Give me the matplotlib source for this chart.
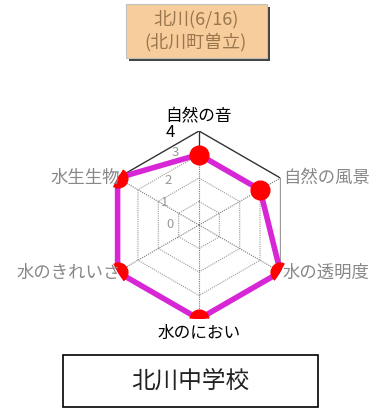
import numpy as np
import matplotlib.pyplot as plt
from matplotlib.patches import Rectangle

plt.rcParams['font.family'] = ['Noto Sans CJK JP', 'DejaVu Sans']

# データ
categories = ['自然の音', '自然の風景', '水の透明度', '水のにおい', '水のきれいさ', '水生生物']
scores = [3, 3, 4, 4, 4, 4]
levels = [0, 1, 2, 3, 4]
title_lines = ['北川(6/16)', '(北川町曽立)']
school = '北川中学校'

W, H = 377, 412
fig = plt.figure(figsize=(W / 100, H / 100), dpi=100)

# 中心 (199,225) 半径 94px
cx, cy, R = 199, 225, 94
ax = fig.add_axes([(cx - R) / W, (H - cy - R) / H, 2 * R / W, 2 * R / H], projection='polar')
ax.set_theta_zero_location('N')
ax.set_theta_direction(-1)
ax.set_ylim(0, 4)
ax.grid(False)
ax.set_xticks([])
ax.set_yticks([])
ax.spines['polar'].set_visible(False)
ax.patch.set_alpha(0)

n = len(categories)
angles = np.linspace(0, 2 * np.pi, n, endpoint=False)
closed = np.append(angles, angles[0])

# 六角形のグリッド
for lv in levels[1:]:
    ax.plot(closed, [lv] * (n + 1), color='#999999', lw=0.8, ls=(0, (1, 1)) if lv < 4 else '-')
for a in angles:
    ax.plot([a, a], [0, 4], color='#777777', lw=0.8, ls=(0, (1, 1)))
# 上部の黒線
ax.plot([angles[-1], angles[0], angles[1]], [4, 4, 4], color='#333333', lw=0.9)
ax.plot([angles[0], angles[0]], [3, 4], color='#333333', lw=0.9)

# データ線
ax.plot(closed, scores + scores[:1], color='#d626d6', lw=4, solid_joinstyle='round', zorder=3)
ax.plot(angles, scores, 'o', color='#ff0000', ms=13.5, zorder=4)

# 軸目盛り
tick_pos = {0: (170, 225), 1: (164, 202), 2: (168, 180), 3: (175, 152)}
for lv, (x, y) in tick_pos.items():
    fig.text(x / W, 1 - y / H, str(lv), color='#999999', fontsize=9.5, ha='center', va='center')
fig.text(170 / W, 1 - 132 / H, '4', color='black', fontsize=12, ha='center', va='center')

# カテゴリラベル
label_pos = [
    (199, 116, 'center', 'black'),
    (283, 178, 'left', '#888888'),
    (283, 273, 'left', '#888888'),
    (199, 333, 'center', 'black'),
    (121, 273, 'right', '#888888'),
    (120, 178, 'right', '#888888'),
]
for name, (x, y, ha, col) in zip(categories, label_pos):
    fig.text(x / W, 1 - y / H, name, color=col, fontsize=12 if col == 'black' else 12.5,
             ha=ha, va='center')

# タイトル枠
fig.patches.append(Rectangle((129 / W, 1 - 61 / H), 141 / W, 54 / H, transform=fig.transFigure,
                             facecolor='#444444', edgecolor='none', zorder=0))
fig.patches.append(Rectangle((126 / W, 1 - 58 / H), 141 / W, 54 / H, transform=fig.transFigure,
                             facecolor='#f8cd9c', edgecolor='#c0c0c0', lw=0.8, zorder=1))
fig.text(196 / W, 1 - 19 / H, title_lines[0], color='#7a5a34', fontsize=13,
         ha='center', va='center', alpha=0.75)
fig.text(196 / W, 1 - 42 / H, title_lines[1], color='#7a5a34', fontsize=13,
         ha='center', va='center', alpha=0.75)

# 学校名
fig.patches.append(Rectangle((63 / W, 1 - 407 / H), 255 / W, 52 / H, transform=fig.transFigure,
                             facecolor='white', edgecolor='black', lw=1.2))
fig.text(190 / W, 1 - 381 / H, school, color='#222222', fontsize=17, ha='center', va='center')

fig.savefig('out.png', dpi=100)
